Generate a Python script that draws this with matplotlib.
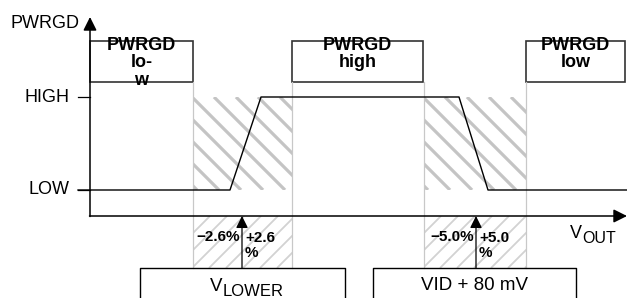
import matplotlib.pyplot as plt
from matplotlib.patches import Rectangle

plt.rcParams['font.family'] = ['Liberation Sans', 'DejaVu Sans']

# PWRGD signal levels (pixel rows of the diagram)
level_labels = ["HIGH", "LOW"]
level_y = [97, 190]

# PWRGD waveform vs VOUT
wave_x = [78, 230, 261, 459, 488, 627]
wave_y = [190, 190, 97, 97, 190, 190]

# state boxes along the top
state_labels = ["PWRGD\nlo-\nw", "PWRGD\nhigh", "PWRGD\nlow"]
state_x0 = [90, 292, 526]
state_x1 = [193, 423, 625]

# threshold windows
window_x0 = [193, 424]
window_x1 = [292, 526]
threshold_x = [242, 476]
minus_labels = ["\u22122.6%", "\u22125.0%"]
plus_labels = ["+2.6\n%", "+5.0\n%"]

# reference voltage boxes
ref_main = ["V", "VID + 80 mV"]
ref_sub = ["LOWER", ""]
ref_x0 = [140, 373]
ref_x1 = [345, 576]

axis_x, axis_y = 90, 216
box_top, box_bot = 41, 82
ref_top = 268

fig = plt.figure(figsize=(6.27, 2.98), dpi=100)
ax = fig.add_axes([0, 0, 1, 1])
ax.set_xlim(0, 627)
ax.set_ylim(298, 0)
ax.axis('off')


def hatch(x0, x1, y0, y1, step, direction, color, lw, phase=0):
    clip = Rectangle((x0, y0), x1 - x0, y1 - y0, transform=ax.transData)
    h = y1 - y0
    x = x0 - h - step + phase
    while x < x1 + h:
        if direction == '\\':
            ln, = ax.plot([x, x + h], [y0, y1], color=color, lw=lw, solid_capstyle='butt')
        else:
            ln, = ax.plot([x, x + h], [y1, y0], color=color, lw=lw, solid_capstyle='butt')
        ln.set_clip_path(clip)
        x += step


for i in range(len(window_x0)):
    x0, x1 = window_x0[i], window_x1[i]
    hatch(x0, x1, level_y[0], level_y[1], 22, '\\', '#c4c4c4', 2.3, phase=4)
    hatch(x0, x1, axis_y, ref_top, 17, '/', '#d2d2d2', 1.3)
    for xe in (x0, x1):
        ax.plot([xe, xe], [box_bot, ref_top], color='#c8c8c8', lw=0.9)

# state boxes
for lab, x0, x1 in zip(state_labels, state_x0, state_x1):
    ax.add_patch(Rectangle((x0, box_top), x1 - x0, box_bot - box_top,
                           fill=False, ec='#333333', lw=1.2))
    ax.text((x0 + x1) / 2, 37, lab, ha='center', va='top', fontsize=13,
            fontweight='bold', linespacing=1.02)

# axes with arrows
arrow_big = dict(arrowstyle='-|>,head_length=0.6,head_width=0.3', color='black',
                 lw=1.1, mutation_scale=13.5, shrinkA=0, shrinkB=0)
ax.annotate('', xy=(axis_x, 17), xytext=(axis_x, axis_y + 0.5), arrowprops=arrow_big)
ax.annotate('', xy=(627, axis_y), xytext=(axis_x - 0.5, axis_y), arrowprops=arrow_big)
ax.text(80, 23, "PWRGD", ha='right', va='center', fontsize=13)
vt = ax.text(570, 238, "V", ha='left', va='baseline', fontsize=13)
ax.annotate("OUT", xy=(1, 0), xycoords=vt, xytext=(0, -3), textcoords='offset points',
            ha='left', va='bottom', fontsize=11.5)

# level ticks and labels
for lab, y in zip(level_labels, level_y):
    ax.plot([78, axis_x], [y, y], color='black', lw=0.9)
    ax.text(70, y, lab, ha='right', va='center', fontsize=13)

# waveform
ax.plot(wave_x, wave_y, color='black', lw=1.0)

# threshold arrows and percentages
arrow_small = dict(arrowstyle='-|>,head_length=0.6,head_width=0.3', color='black',
                   lw=0.9, mutation_scale=12, shrinkA=0, shrinkB=0)
for xt, mlab, plab in zip(threshold_x, minus_labels, plus_labels):
    ax.annotate('', xy=(xt, axis_y), xytext=(xt, ref_top), arrowprops=arrow_small)
    ax.text(xt - 2, 237, mlab, ha='right', va='center', fontsize=11, fontweight='bold')
    ax.text(xt + 3, 231, plab, ha='left', va='top', fontsize=11, fontweight='bold',
            linespacing=1.1)

# reference boxes (cut by the bottom edge)
for main, sub, x0, x1 in zip(ref_main, ref_sub, ref_x0, ref_x1):
    ax.plot([x0, x0, x1, x1], [305, ref_top, ref_top, 305], color='black', lw=1.0)
    if sub:
        t = ax.text(210, 291, main, ha='left', va='baseline', fontsize=13.5)
        ax.annotate(sub, xy=(1, 0), xycoords=t, xytext=(0, -3), textcoords='offset points',
                    ha='left', va='bottom', fontsize=12)
    else:
        ax.text((x0 + x1) / 2, 290, main, ha='center', va='baseline', fontsize=13.5)

fig.savefig('out.png', dpi=100)
